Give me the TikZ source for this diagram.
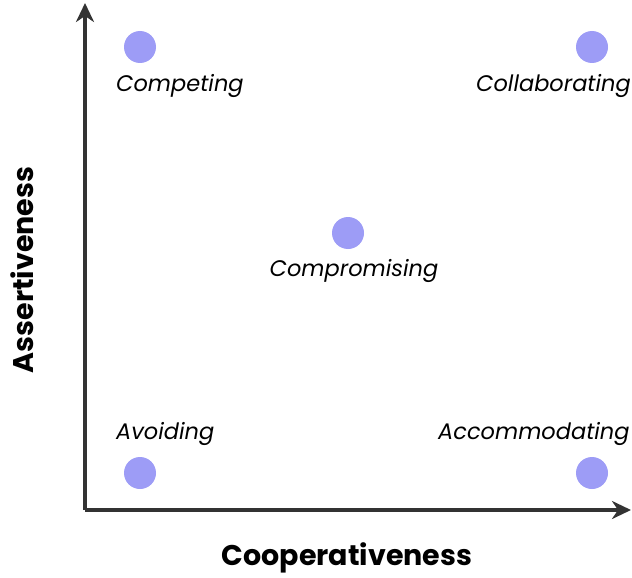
\documentclass[tikz,border=0pt]{standalone}
\usepackage{fontspec}
\setmainfont{Poppins}
\usetikzlibrary{arrows.meta}
\definecolor{dotc}{HTML}{9D9CF6}
\definecolor{axisc}{HTML}{333333}
\begin{document}
\begin{tikzpicture}[x=1pt,y=-1pt,
  dot/.style={circle,fill=dotc,minimum size=32pt,inner sep=0pt},
  lbl/.style={font=\fontsize{22.5}{27}\selectfont\itshape,inner sep=0pt,anchor=west},
  axislbl/.style={font=\fontsize{28.5}{34}\selectfont\bfseries,inner sep=0pt},
  axis/.style={line width=3.2pt,draw=axisc,-{Stealth[length=19pt,width=18pt,inset=6pt]}}]
\useasboundingbox (0,0) rectangle (632,578);
\coordinate (o) at (85,510);
\coordinate (ytop) at (85,3);
\coordinate (xend) at (631,510);
\draw[axis] (o) -- (ytop);
\draw[axis] (o) -- (xend);
\node[dot] (d1) at (140,47) {};
\node[dot] (d2) at (592,47) {};
\node[dot] (d3) at (348,233) {};
\node[dot] (d4) at (140,473) {};
\node[dot] (d5) at (592,473) {};
\node[lbl] (l1) at (116,86) {Competing};
\node[lbl,anchor=east] (l2) at (631,86) {Collaborating};
\node[lbl,anchor=center] (l3) at (354,271) {Compromising};
\node[lbl] (l4) at (116,434) {Avoiding};
\node[lbl] (l5) at (438,434) {Accommodating};
\node[axislbl,rotate=90] (ya) at (22,270) {Assertiveness};
\node[axislbl] (xa) at (347,558) {Cooperativeness};
\end{tikzpicture}
\end{document}
